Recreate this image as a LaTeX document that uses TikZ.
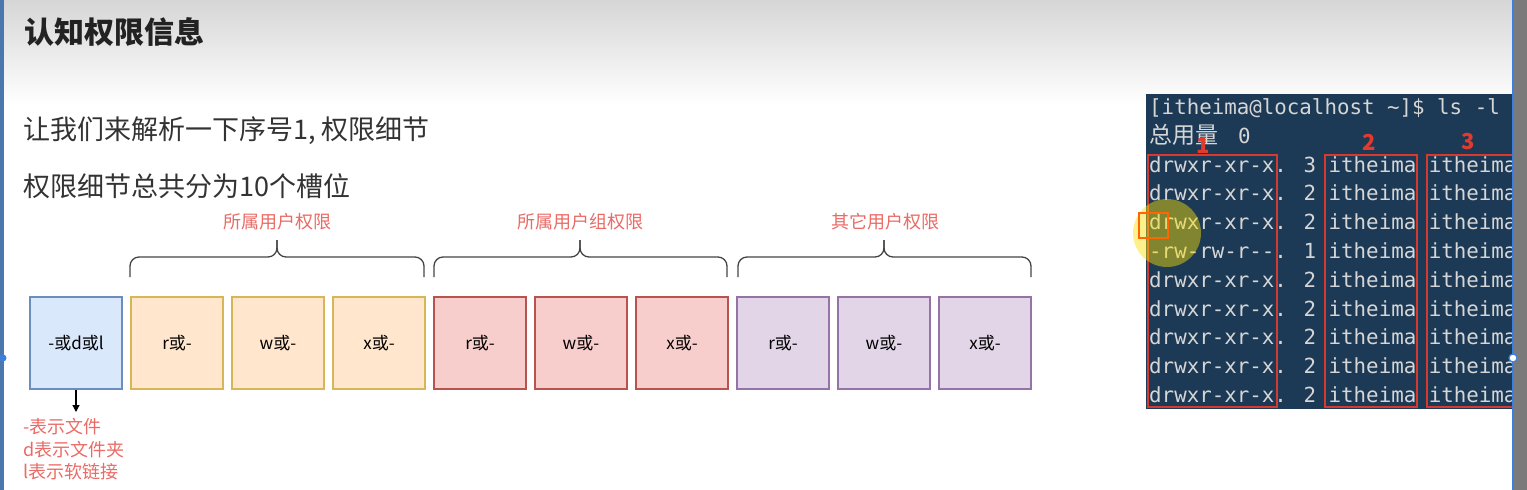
\documentclass[tikz,border=0pt]{standalone}
\usepackage{fontspec}
\setmainfont{Noto Sans CJK SC}
\newfontfamily\cjk{Noto Sans CJK SC}
\newfontfamily\mono{DejaVu Sans Mono}
\usetikzlibrary{arrows.meta}
\definecolor{topgray}{HTML}{D6D6D6}
\definecolor{titlec}{HTML}{222222}
\definecolor{bodyc}{HTML}{333333}
\definecolor{labred}{HTML}{EA6B66}
\definecolor{bluefill}{HTML}{DAE8FC}\definecolor{bluedraw}{HTML}{6C8EBF}
\definecolor{orfill}{HTML}{FFE6CC}\definecolor{ordraw}{HTML}{D6B656}
\definecolor{rdfill}{HTML}{F8CECC}\definecolor{rddraw}{HTML}{B85450}
\definecolor{pufill}{HTML}{E1D5E7}\definecolor{pudraw}{HTML}{9673A6}
\definecolor{termbg}{HTML}{1C3A55}
\definecolor{termtx}{HTML}{D6D6D6}
\definecolor{termred}{HTML}{D63A2F}
\definecolor{numred}{HTML}{E23B2E}
\definecolor{guide}{HTML}{3D7FE0}
\definecolor{leftbar}{HTML}{4A78AE}
\definecolor{stripgray}{HTML}{7A7A7A}
\definecolor{bracec}{HTML}{444444}
\tikzset{
  slot/.style={draw, line width=1.2pt, minimum width=92pt, minimum height=92pt, inner sep=0pt, font=\fontsize{17}{20}\selectfont, text=black},
  grouplab/.style={text=labred, font=\fontsize{18}{22}\selectfont, inner sep=0pt},
  notetxt/.style={text=labred, font=\fontsize{18}{22}\selectfont, inner sep=0pt, anchor=west},
  bracepath/.style={draw=bracec, line width=1.3pt, rounded corners=9pt},
  termline/.style={text=termtx, font=\mono\fontsize{20.8}{24}\selectfont, inner sep=0pt, anchor=base west},
  colbox/.style={draw=termred, line width=2pt},
  numlab/.style={text=numred, font=\bfseries\fontsize{22}{24}\selectfont, inner sep=0pt}
}
\begin{document}
\begin{tikzpicture}[x=1pt,y=-1pt]
\useasboundingbox (0,0) rectangle (1527,490);
\fill[white] (0,0) rectangle (1527,490);
\shade[top color=topgray, bottom color=white] (0,0) rectangle (1513,105);
\fill[leftbar] (0,0) rectangle (4,490);

% texts
\node[anchor=west, inner sep=0pt, text=titlec, font=\bfseries\fontsize{30}{34}\selectfont] (title) at (24,32) {认知权限信息};
\node[anchor=west, inner sep=0pt, text=bodyc, font=\fontsize{27}{30}\selectfont] (line1) at (23,131) {让我们来解析一下序号1, 权限细节};
\node[anchor=west, inner sep=0pt, text=bodyc, font=\fontsize{27}{30}\selectfont] (line2) at (23,186) {权限细节总共分为10个槽位};

% slots
\node[slot, fill=bluefill, draw=bluedraw] (b1) at (76,343) {-或d或l};
\node[slot, fill=orfill, draw=ordraw] (b2) at (177,343) {r或-};
\node[slot, fill=orfill, draw=ordraw] (b3) at (278,343) {w或-};
\node[slot, fill=orfill, draw=ordraw] (b4) at (379,343) {x或-};
\node[slot, fill=rdfill, draw=rddraw] (b5) at (480,343) {r或-};
\node[slot, fill=rdfill, draw=rddraw] (b6) at (581,343) {w或-};
\node[slot, fill=rdfill, draw=rddraw] (b7) at (682,343) {x或-};
\node[slot, fill=pufill, draw=pudraw] (b8) at (783,343) {r或-};
\node[slot, fill=pufill, draw=pudraw] (b9) at (884,343) {w或-};
\node[slot, fill=pufill, draw=pudraw] (b10) at (985,343) {x或-};

% braces
\draw[bracepath] (130,277) -- (130,257) -- (277,257) -- (277,240);
\draw[bracepath] (424,277) -- (424,257) -- (277,257) -- (277,240);
\draw[bracepath] (434,277) -- (434,257) -- (580,257) -- (580,240);
\draw[bracepath] (727,277) -- (727,257) -- (580,257) -- (580,240);
\draw[bracepath] (738,277) -- (738,257) -- (884,257) -- (884,240);
\draw[bracepath] (1031,277) -- (1031,257) -- (884,257) -- (884,240);

\node[grouplab] (g1) at (277,222) {所属用户权限};
\node[grouplab] (g2) at (580,222) {所属用户组权限};
\node[grouplab] (g3) at (885,222) {其它用户权限};

% arrow and notes
\coordinate (ae) at (76,412);
\draw[-{Triangle[length=7pt,width=7pt]}, line width=1.2pt, black] (b1.south) -- (ae);
\node[notetxt] (n1) at (23,427) {-表示文件};
\node[notetxt] (n2) at (23,449.5) {d表示文件夹};
\node[notetxt] (n3) at (23,472) {l表示软链接};

% terminal
\fill[termbg] (1146,94) rectangle (1513,409);
\begin{scope}
\clip (1146,94) rectangle (1512,409);
\node[termline] (hdr) at (1149,114.4) {[itheima@localhost \textasciitilde]\$ ls -l};
\node[anchor=base west, inner sep=0pt, text=termtx, font=\cjk\fontsize{23}{26}\selectfont] (zy) at (1149,143.2) {总用量};
\node[termline] (zero) at (1238,143.2) {0};
\node[termline] (r1) at (1149,172.0) {drwxr-xr-x. 3 itheima itheima};
\node[termline] (r2) at (1149,200.8) {drwxr-xr-x. 2 itheima itheima};
\node[termline] (r3) at (1149,229.6) {drwxr-xr-x. 2 itheima itheima};
\node[termline] (r4) at (1149,258.4) {-rw-rw-r-{}-. 1 itheima itheima};
\node[termline] (r5) at (1149,287.2) {drwxr-xr-x. 2 itheima itheima};
\node[termline] (r6) at (1149,316.0) {drwxr-xr-x. 2 itheima itheima};
\node[termline] (r7) at (1149,344.8) {drwxr-xr-x. 2 itheima itheima};
\node[termline] (r8) at (1149,373.6) {drwxr-xr-x. 2 itheima itheima};
\node[termline] (r9) at (1149,402.4) {drwxr-xr-x. 2 itheima itheima};
\end{scope}
\draw[colbox] (1148,155) rectangle (1277,407);
\draw[colbox] (1325,155) rectangle (1417,407);
\draw[colbox] (1427,155) rectangle (1516,407);
\node[numlab] (k1) at (1203,146) {1};
\node[numlab] (k2) at (1369,142) {2};
\node[numlab] (k3) at (1468,142) {3};

% highlight
\fill[yellow!85!orange, opacity=0.45] (1167,233) circle[radius=34];
\draw[draw=orange!80!red, line width=1.5pt] (1139,213) rectangle (1168,238);

% right strip and guides
\fill[stripgray] (1514,0) rectangle (1527,490);
\draw[guide, line width=1.2pt] (1513,0) -- (1513,490);
\fill[guide] (3,358) circle[radius=3.5];
\draw[guide, fill=white, line width=1.2pt] (1513,358) circle[radius=4];
\end{tikzpicture}
\end{document}
